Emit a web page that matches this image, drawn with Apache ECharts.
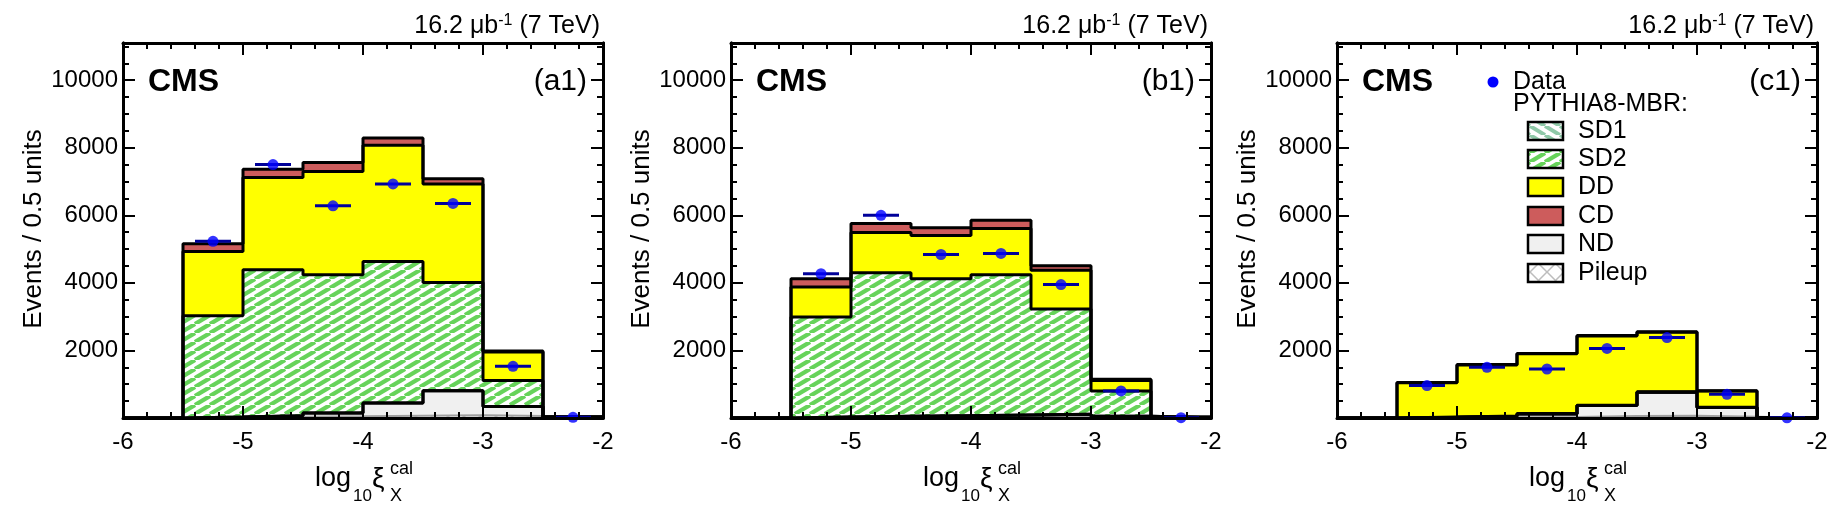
<!DOCTYPE html>
<html>
<head>
<meta charset="utf-8">
<script src="https://cdn.jsdelivr.net/npm/echarts@6/dist/echarts.min.js"></script>
<style>
html, body { margin: 0; padding: 0; background: #fff; }
#main { width: 1839px; height: 515px; }
</style>
</head>
<body>
<div id="main"></div>
<script>
// bins in log10(xi_X^cal), width 0.5
var binEdges = [-6, -5.5, -5, -4.5, -4, -3.5, -3, -2.5, -2];
var binCentres = [-5.75, -5.25, -4.75, -4.25, -3.75, -3.25, -2.75, -2.25];
var yTickLabels = [2000, 4000, 6000, 8000, 10000];
var panelTags = ['(a1)', '(b1)', '(c1)'];

// (a1) component contributions per bin
var pileupA = [0, 20, 40, 50, 70, 80, 60, 10];
var ndA     = [0, 10, 30, 100, 375, 730, 280, 10];
var sd1A    = [0, 0, 0, 0, 0, 0, 0, 0];
var sd2A    = [0, 3000, 4320, 4090, 4185, 3200, 770, 5];
var ddA     = [0, 1900, 2730, 3060, 3440, 2920, 840, 5];
var cdA     = [0, 230, 240, 260, 220, 150, 30, 5];
var dataA   = [null, 5230, 7500, 6280, 6930, 6350, 1530, 20];

// (b1)
var pileupB = [0, 20, 30, 40, 50, 60, 30, 5];
var ndB     = [0, 10, 20, 30, 40, 50, 20, 5];
var sd1B    = [0, 0, 0, 0, 0, 0, 0, 0];
var sd2B    = [0, 2960, 4250, 4050, 4150, 3120, 750, 10];
var ddB     = [0, 890, 1190, 1280, 1370, 1140, 310, 5];
var cdB     = [0, 240, 270, 230, 240, 140, 40, 5];
var dataB   = [null, 4270, 6000, 4840, 4870, 3950, 800, 10];

// (c1)
var pileupC = [0, 10, 20, 30, 60, 70, 40, 5];
var ndC     = [0, 10, 30, 90, 310, 690, 270, 5];
var sd1C    = [0, 0, 0, 0, 0, 0, 0, 0];
var sd2C    = [0, 10, 10, 10, 10, 20, 10, 0];
var ddC     = [0, 1010, 1510, 1770, 2050, 1760, 480, 5];
var cdC     = [0, 10, 10, 10, 10, 10, 10, 0];
var dataC   = [null, 960, 1500, 1450, 2060, 2380, 700, 5];

var panels = [
    {tag: panelTags[0], parts: [pileupA, ndA, sd1A, sd2A, ddA, cdA], data: dataA},
    {tag: panelTags[1], parts: [pileupB, ndB, sd1B, sd2B, ddB, cdB], data: dataB},
    {tag: panelTags[2], parts: [pileupC, ndC, sd1C, sd2C, ddC, cdC], data: dataC}
];

var FONT = 'Liberation Sans, Arial, sans-serif';
var gridLefts = [123, 731, 1337];
var gridTop = 43, gridW = 480, gridH = 375;
var yMax = 11100;
var errHalf = 0.15;

// shallow diagonal hatch tile (w x h), dir>0 rises to the right
function stripes(color, dir, w, h, lw) {
    var c = document.createElement('canvas');
    c.width = w; c.height = h;
    var ctx = c.getContext('2d');
    ctx.fillStyle = '#fff';
    ctx.fillRect(0, 0, w, h);
    ctx.strokeStyle = color;
    ctx.lineWidth = lw;
    for (var k = -1; k <= 1; k++) {
        ctx.beginPath();
        if (dir > 0) { ctx.moveTo(k * w, h); ctx.lineTo(k * w + w, 0); }
        else { ctx.moveTo(k * w, 0); ctx.lineTo(k * w + w, h); }
        ctx.stroke();
    }
    return c;
}
function crosshatch(color, period, lw) {
    var c = document.createElement('canvas');
    c.width = c.height = period;
    var ctx = c.getContext('2d');
    ctx.fillStyle = '#fff';
    ctx.fillRect(0, 0, period, period);
    ctx.strokeStyle = color;
    ctx.lineWidth = lw;
    ctx.beginPath();
    ctx.moveTo(0, 0); ctx.lineTo(period, period);
    ctx.moveTo(0, period); ctx.lineTo(period, 0);
    ctx.stroke();
    return c;
}

var fills = [
    {image: crosshatch('#bdbdbd', 16, 1.5), repeat: 'repeat'},     // Pileup
    '#f0f0f0',                                                     // ND
    {image: stripes('#8fc9a8', -1, 15, 9, 4), repeat: 'repeat'},   // SD1
    {image: stripes('#66d35a', 1, 15, 9, 4.2), repeat: 'repeat'},  // SD2
    '#ffff00',                                                     // DD
    '#cd5c5c'                                                      // CD
];

function stepData(tops) {
    var pts = [];
    for (var i = 0; i < tops.length; i++) pts.push([binEdges[i], tops[i]]);
    pts.push([binEdges[binEdges.length - 1], tops[tops.length - 1]]);
    return pts;
}

var grids = [], xAxes = [], yAxes = [], series = [], graphics = [];

function yAxisDef(g, pos, step, len, labels) {
    return {
        type: 'value', gridIndex: g, position: pos, min: 0, max: yMax, interval: step, z: 10,
        axisLine: {show: true, onZero: false, lineStyle: {color: '#000', width: 3}},
        axisTick: {show: true, inside: true, length: len, lineStyle: {color: '#000', width: 2}},
        axisLabel: {
            show: labels, margin: 5, fontSize: 24, color: '#000', fontFamily: FONT,
            formatter: function (v) { return yTickLabels.indexOf(v) >= 0 ? String(v) : ''; }
        },
        splitLine: {show: false}
    };
}
function xAxisDef(g, pos, labels) {
    return {
        type: 'value', gridIndex: g, position: pos, min: -6, max: -2, interval: 1, z: 10,
        axisLine: {show: true, onZero: false, lineStyle: {color: '#000', width: 3}},
        axisTick: {show: true, inside: true, length: 12, lineStyle: {color: '#000', width: 2}},
        minorTick: {show: true, splitNumber: 5, length: 6, lineStyle: {color: '#000', width: 2}},
        axisLabel: {show: labels, margin: 12, fontSize: 24, color: '#000', fontFamily: FONT,
            showMinLabel: true, showMaxLabel: true},
        splitLine: {show: false}, minorSplitLine: {show: false}
    };
}

panels.forEach(function (p, g) {
    var L = gridLefts[g];
    grids.push({left: L, top: gridTop, width: gridW, height: gridH, outerBoundsMode: 'none', containLabel: false});
    xAxes.push(xAxisDef(g, 'bottom', true), xAxisDef(g, 'top', false));
    yAxes.push(yAxisDef(g, 'left', 2000, 12, true), yAxisDef(g, 'left', 500, 6, false),
               yAxisDef(g, 'right', 2000, 12, false), yAxisDef(g, 'right', 500, 6, false));
    var xi = g * 2, yi = g * 4;

    // cumulative stack tops, bottom (pileup) to top (CD)
    var tops = [], run = p.parts[0].map(function () { return 0; });
    p.parts.forEach(function (part) {
        run = run.map(function (v, i) { return v + part[i]; });
        tops.push(run.slice());
    });

    // filled areas, top level first so lower levels paint over
    for (var k = tops.length - 1; k >= 0; k--) {
        series.push({
            type: 'line', xAxisIndex: xi, yAxisIndex: yi, step: 'end', symbol: 'none', z: 2,
            data: stepData(tops[k]), lineStyle: {width: 0, opacity: 0},
            areaStyle: {color: fills[k], opacity: 1}, silent: true
        });
    }
    // outlines
    for (var k2 = 0; k2 < tops.length; k2++) {
        series.push({
            type: 'line', xAxisIndex: xi, yAxisIndex: yi, step: 'end', symbol: 'none', z: 3,
            data: stepData(tops[k2]),
            lineStyle: {color: k2 === 0 ? '#a0a0a0' : '#000', width: k2 === 0 ? 2 : 3}, silent: true
        });
    }
    var pts = [];
    p.data.forEach(function (v, i) { if (v !== null) pts.push([binCentres[i], v]); });
    series.push({
        type: 'custom', xAxisIndex: xi, yAxisIndex: yi, z: 4, data: pts, clip: false,
        renderItem: function (params, api) {
            var a = api.coord([api.value(0) - errHalf, api.value(1)]);
            var b = api.coord([api.value(0) + errHalf, api.value(1)]);
            return {type: 'line', shape: {x1: a[0], y1: a[1], x2: b[0], y2: b[1]},
                    style: {stroke: '#000099', lineWidth: 3}};
        }
    });
    series.push({
        type: 'scatter', xAxisIndex: xi, yAxisIndex: yi, z: 5, data: pts, clip: false,
        symbol: 'circle', symbolSize: 11, itemStyle: {color: '#0000ff'}
    });

    // texts
    graphics.push({type: 'text', x: L + 25, y: 82, z: 20,
        style: {text: 'CMS', font: 'bold 32px ' + FONT, fill: '#000', align: 'left', verticalAlign: 'middle'}});
    graphics.push({type: 'text', x: L + 464, y: 82, z: 20,
        style: {text: p.tag, font: '30px ' + FONT, fill: '#000', align: 'right', verticalAlign: 'middle'}});
    graphics.push({type: 'text', x: L + 477, y: 26, z: 20,
        style: {text: '{a|16.2 μb}{s|-1}{a| (7 TeV)}', align: 'right', verticalAlign: 'middle', fill: '#000',
            rich: {a: {fontSize: 25, fontFamily: FONT, lineHeight: 26, fill: '#000'},
                   s: {fontSize: 16, fontFamily: FONT, lineHeight: 16, verticalAlign: 'top', fill: '#000'}}}});
    graphics.push({type: 'text', x: L - 89, y: 229, rotation: Math.PI / 2, z: 20,
        style: {text: 'Events / 0.5 units', font: '26px ' + FONT, fill: '#000', align: 'center', verticalAlign: 'middle'}});
    graphics.push({type: 'text', x: L + 192, y: 479, z: 20,
        style: {text: 'log', font: '27px ' + FONT, fill: '#000', align: 'left', verticalAlign: 'middle'}});
    graphics.push({type: 'text', x: L + 230, y: 496, z: 20,
        style: {text: '10', font: '17px ' + FONT, fill: '#000', align: 'left', verticalAlign: 'middle'}});
    graphics.push({type: 'text', x: L + 249, y: 479, z: 20,
        style: {text: 'ξ', font: '28px ' + FONT, fill: '#000', align: 'left', verticalAlign: 'middle'}});
    graphics.push({type: 'text', x: L + 267, y: 469, z: 20,
        style: {text: 'cal', font: '18px ' + FONT, fill: '#000', align: 'left', verticalAlign: 'middle'}});
    graphics.push({type: 'text', x: L + 267, y: 496, z: 20,
        style: {text: 'X', font: '18px ' + FONT, fill: '#000', align: 'left', verticalAlign: 'middle'}});
});

// legend inside (c1)
var LL = gridLefts[2];
var legendNames = ['SD1', 'SD2', 'DD', 'CD', 'ND', 'Pileup'];
var legendFills = [fills[2], fills[3], fills[4], fills[5], fills[1], fills[0]];
var legendRows = [131, 159, 187, 216, 244, 273];
graphics.push({type: 'circle', shape: {cx: LL + 156, cy: 82, r: 5.5}, style: {fill: '#0000ff'}, z: 20});
graphics.push({type: 'text', x: LL + 176, y: 82, z: 20,
    style: {text: 'Data', font: '25px ' + FONT, fill: '#000', align: 'left', verticalAlign: 'middle'}});
graphics.push({type: 'text', x: LL + 176, y: 104, z: 20,
    style: {text: 'PYTHIA8-MBR:', font: '25px ' + FONT, fill: '#000', align: 'left', verticalAlign: 'middle'}});
legendNames.forEach(function (n, i) {
    var f = n === 'Pileup' ? {image: crosshatch('#bdbdbd', 17, 1.5), repeat: 'repeat'} : legendFills[i];
    graphics.push({type: 'rect', shape: {x: LL + 191, y: legendRows[i] - 9, width: 35, height: 18}, z: 20,
        style: {fill: f, stroke: '#000', lineWidth: 2.5}});
    graphics.push({type: 'text', x: LL + 241, y: legendRows[i], z: 20,
        style: {text: n, font: '25px ' + FONT, fill: '#000', align: 'left', verticalAlign: 'middle'}});
});

var myChart = echarts.init(document.getElementById('main'));
var option = {
    animation: false,
    backgroundColor: '#fff',
    textStyle: {fontFamily: FONT},
    grid: grids,
    xAxis: xAxes,
    yAxis: yAxes,
    series: series,
    graphic: graphics
};
myChart.setOption(option);
</script>
</body>
</html>
